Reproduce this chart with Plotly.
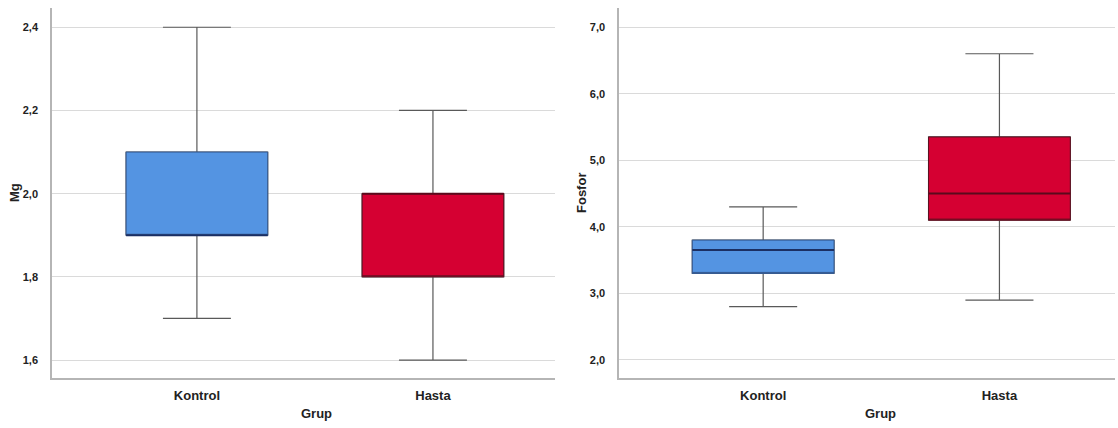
import plotly.graph_objects as go

# Group labels
groups = ["Kontrol", "Hasta"]

# Mg summary statistics per group
mg_low = [1.7, 1.6]
mg_q1 = [1.9, 1.8]
mg_median = [1.9, 2.0]
mg_q3 = [2.1, 2.0]
mg_high = [2.4, 2.2]

# Fosfor summary statistics per group
p_low = [2.8, 2.9]
p_q1 = [3.3, 4.1]
p_median = [3.65, 4.5]
p_q3 = [3.8, 5.35]
p_high = [4.3, 6.6]

# Axis ticks
mg_ticks = [1.6, 1.8, 2.0, 2.2, 2.4]
p_ticks = [2.0, 3.0, 4.0, 5.0, 6.0, 7.0]

fill_colors = ["#5494E2", "#D50032"]
edge_colors = ["#34588F", "#5A1020"]
median_colors = ["#1B2F63", "#5A0A1C"]
whisker_color = "#595959"
text_color = "#222222"
grid_color = "#DADADA"
axis_color = "#B5B5B5"

fig = go.Figure()


def add_group(xaxis, yaxis, i, low, q1, med, q3, high):
    # whiskers and caps
    fig.add_trace(go.Box(
        x=[groups[i]], q1=[q1], median=[med], q3=[q3],
        lowerfence=[low], upperfence=[high],
        width=0.6, whiskerwidth=0.48,
        fillcolor=fill_colors[i],
        line=dict(color=whisker_color, width=1.2),
        boxpoints=False, showlegend=False, hoverinfo="skip",
        xaxis=xaxis, yaxis=yaxis,
    ))
    # box body with its own edge colour
    fig.add_trace(go.Box(
        x=[groups[i]], q1=[q1], median=[q1], q3=[q3],
        lowerfence=[q1], upperfence=[q3],
        width=0.6, whiskerwidth=0,
        fillcolor=fill_colors[i],
        line=dict(color=edge_colors[i], width=1),
        boxpoints=False, showlegend=False, hoverinfo="skip",
        xaxis=xaxis, yaxis=yaxis,
    ))
    # median as a zero-height box drawn with a heavier line
    fig.add_trace(go.Box(
        x=[groups[i]], q1=[med], median=[med], q3=[med],
        lowerfence=[med], upperfence=[med],
        width=0.6, whiskerwidth=0,
        fillcolor="rgba(0,0,0,0)",
        line=dict(color=median_colors[i], width=2),
        boxpoints=False, showlegend=False, hoverinfo="skip",
        xaxis=xaxis, yaxis=yaxis,
    ))


for i in range(2):
    add_group("x", "y", i, mg_low[i], mg_q1[i], mg_median[i], mg_q3[i], mg_high[i])
    add_group("x2", "y2", i, p_low[i], p_q1[i], p_median[i], p_q3[i], p_high[i])

tickfont = dict(family="Liberation Sans, Arial, sans-serif", size=11,
                color=text_color, weight="bold")
catfont = dict(family="Liberation Sans, Arial, sans-serif", size=13,
               color=text_color, weight="bold")

common_x = dict(
    type="category", categoryorder="array", categoryarray=groups,
    showgrid=False, zeroline=False, showline=True, linecolor=axis_color,
    linewidth=1.5, ticks="outside", ticklen=5, tickcolor="rgba(0,0,0,0)",
    tickfont=catfont,
)
common_y = dict(
    showgrid=True, gridcolor=grid_color, gridwidth=1, zeroline=False,
    showline=True, linecolor=axis_color, linewidth=1.5,
    ticks="outside", ticklen=10, tickcolor="rgba(0,0,0,0)",
    tickfont=tickfont, tickformat=".1f",
)

fig.update_layout(
    width=1118, height=428,
    margin=dict(l=0, r=0, t=0, b=0),
    paper_bgcolor="white", plot_bgcolor="white",
    separators=",.",
    boxmode="overlay",
    xaxis=dict(common_x, domain=[0.0465, 0.4964], range=[-0.614, 1.517], anchor="y"),
    yaxis=dict(common_y, domain=[0.117, 0.981], range=[1.557, 2.446],
               tickvals=mg_ticks, anchor="x"),
    xaxis2=dict(common_x, domain=[0.5537, 0.9975], range=[-0.61, 1.49], anchor="y2"),
    yaxis2=dict(common_y, domain=[0.117, 0.981], range=[1.73, 7.285],
                tickvals=p_ticks, anchor="x2"),
    annotations=[
        dict(text="<b>Grup</b>", xref="paper", yref="paper", x=316 / 1118, y=1 - 413 / 428,
             showarrow=False, font=catfont, xanchor="center", yanchor="middle"),
        dict(text="<b>Grup</b>", xref="paper", yref="paper", x=880 / 1118, y=1 - 413 / 428,
             showarrow=False, font=catfont, xanchor="center", yanchor="middle"),
        dict(text="<b>Mg</b>", xref="paper", yref="paper", x=14 / 1118, y=1 - 193 / 428,
             showarrow=False, font=catfont, textangle=-90, xanchor="center", yanchor="middle"),
        dict(text="<b>Fosfor</b>", xref="paper", yref="paper", x=581 / 1118, y=1 - 193 / 428,
             showarrow=False, font=catfont, textangle=-90, xanchor="center", yanchor="middle"),
    ],
)

fig.write_html("out.html")
